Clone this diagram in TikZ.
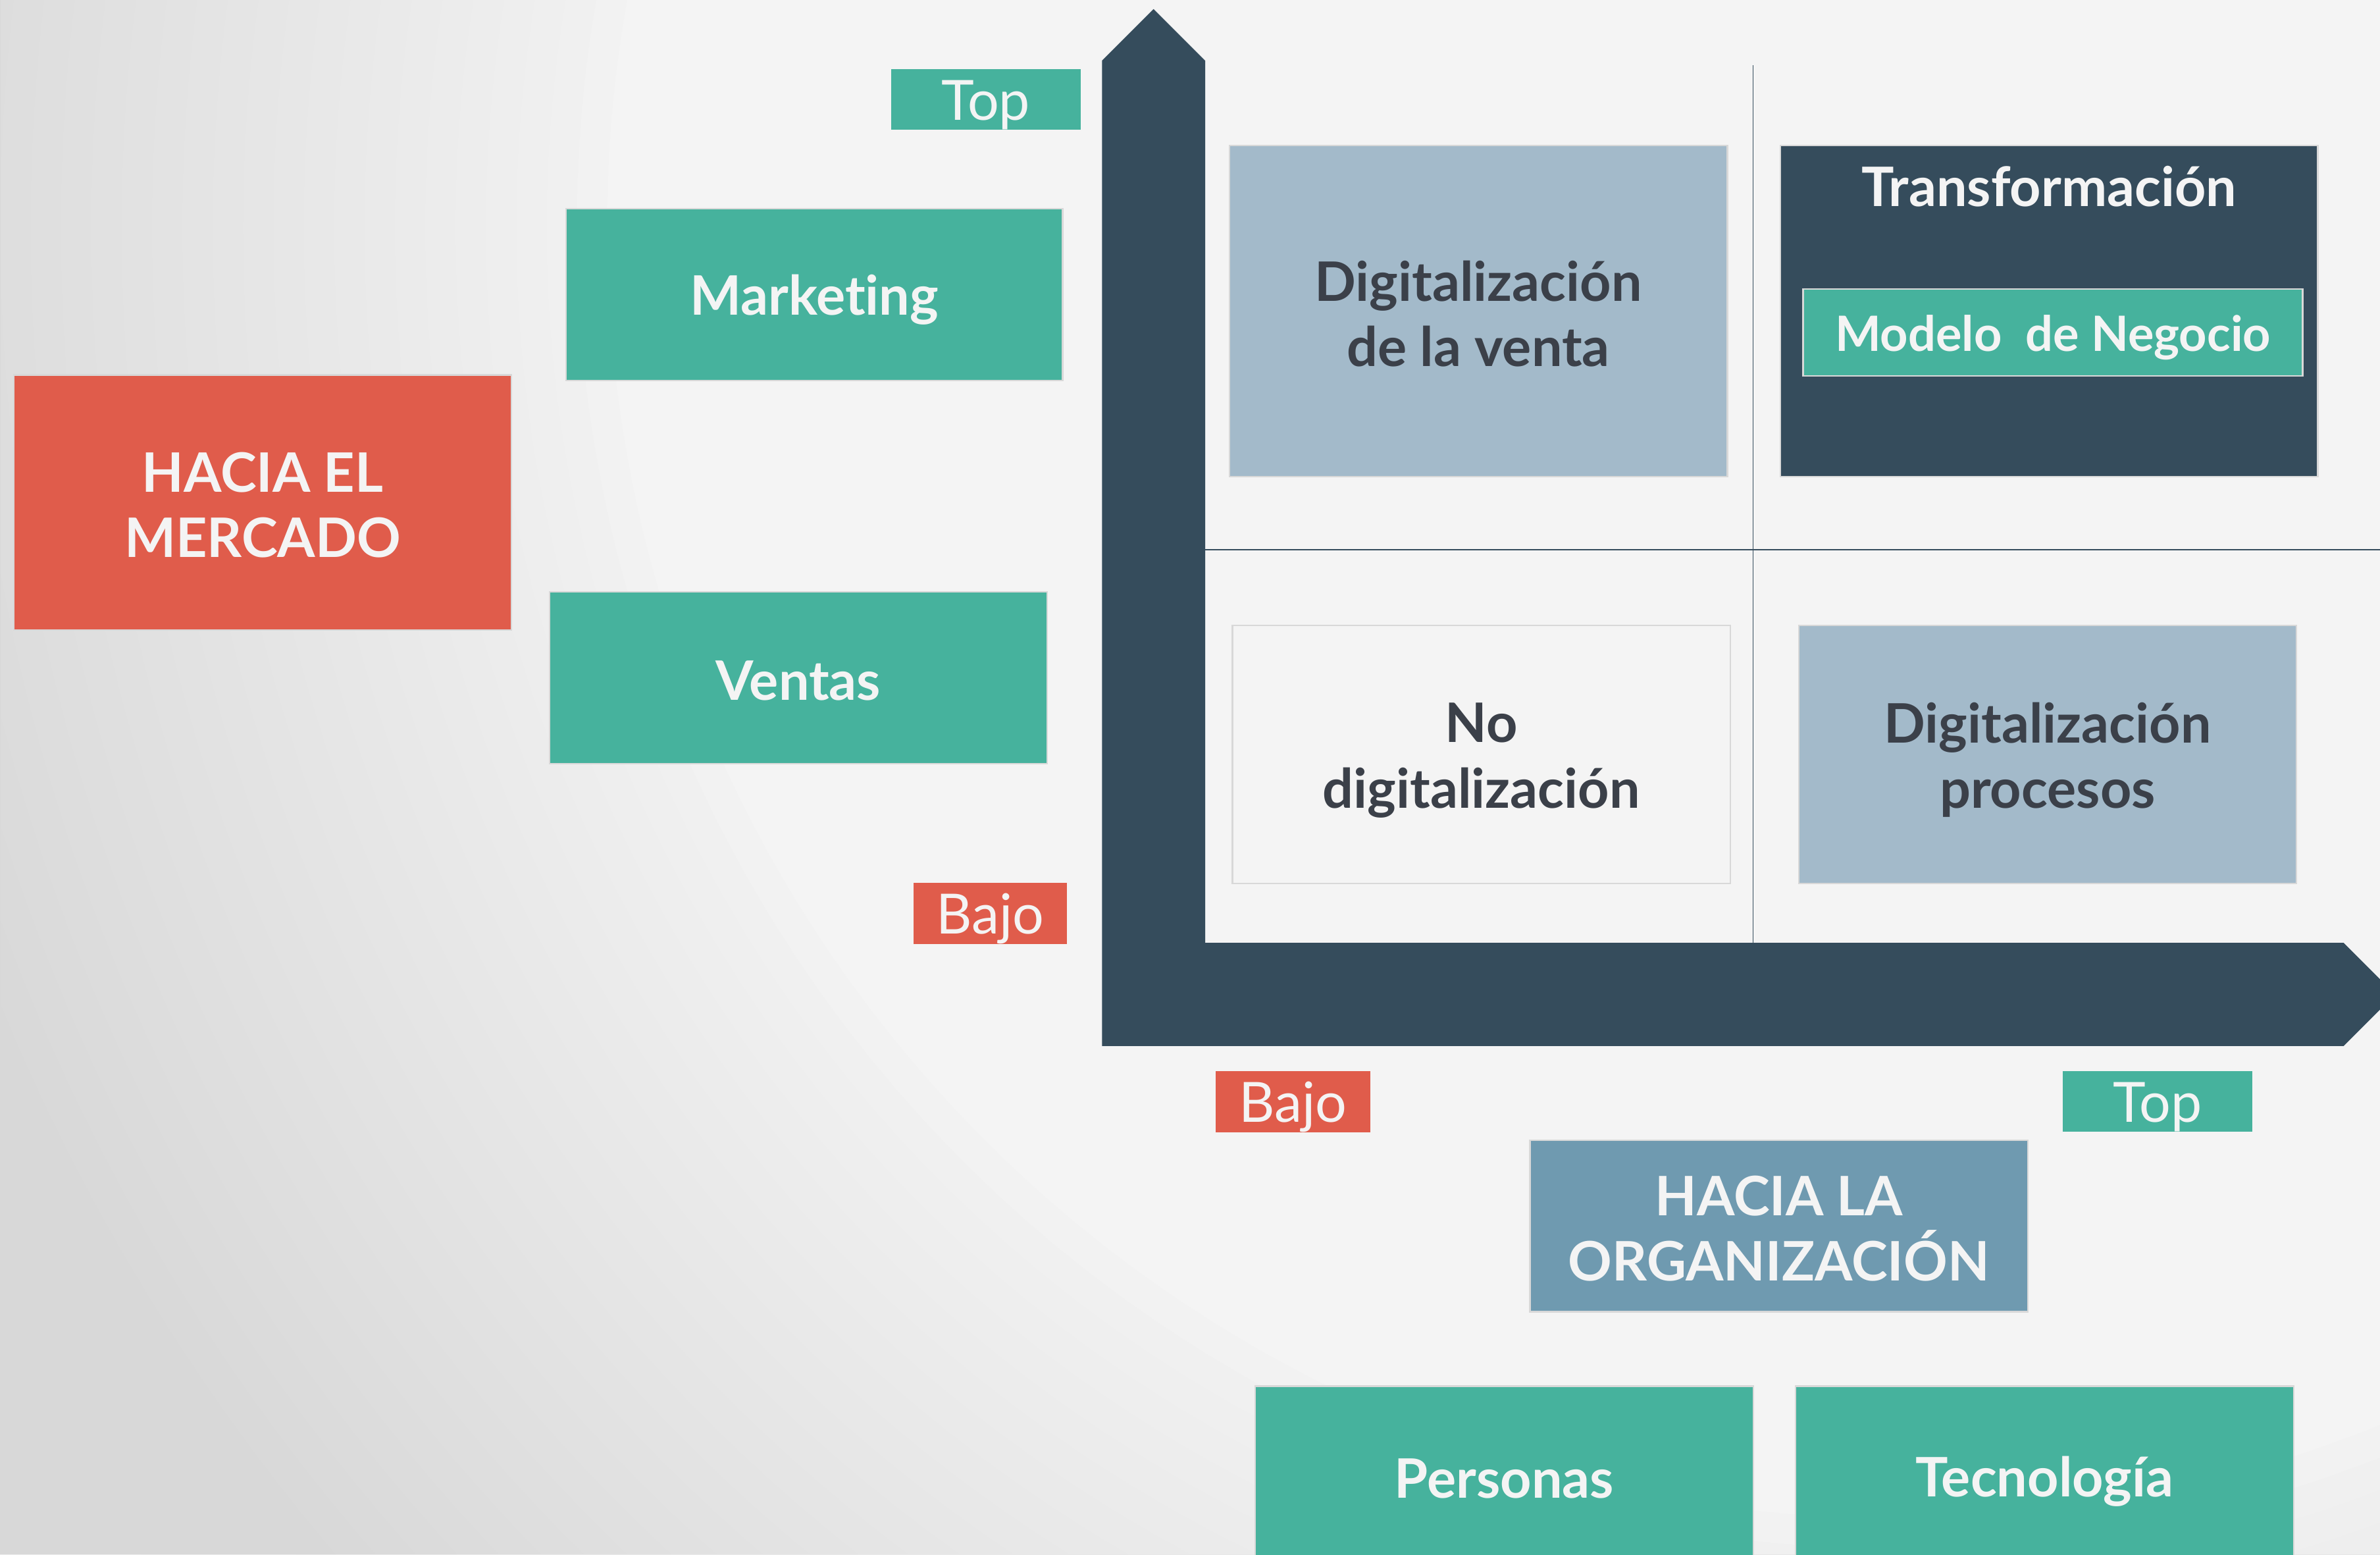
\documentclass[tikz,border=0pt]{standalone}
\usepackage{fontspec}
\setmainfont{Lato}[Ligatures=NoCommon]
\definecolor{axisc}{HTML}{354C5C}
\definecolor{teal}{HTML}{46B29D}
\definecolor{redc}{HTML}{E05C4B}
\definecolor{lblue}{HTML}{A3BACA}
\definecolor{steel}{HTML}{6F9AB0}
\definecolor{bgc}{HTML}{F4F4F4}
\definecolor{bgl}{HTML}{D8D8D8}
\definecolor{boxline}{HTML}{D8D8D8}
\definecolor{darktext}{HTML}{3B4049}
\definecolor{whitetext}{HTML}{F4F4F4}
\newcommand{\lnstrut}{\rule[-3pt]{0pt}{27pt}}
\newcommand{\smstrut}{\rule[-3pt]{0pt}{24.5pt}}
\tikzset{
  box/.style={rectangle, draw=boxline, line width=0.7pt, inner sep=0pt, align=center,
    font=\bfseries\fontsize{25.5}{30.6}\selectfont},
  tealbox/.style={box, fill=teal, text=whitetext},
  bluebox/.style={box, fill=lblue, text=darktext},
  tag/.style={rectangle, inner sep=0pt, text=whitetext, font=\fontsize{26}{30}\selectfont,
    minimum height=0.975cm},
  guide/.style={draw=axisc, line width=0.5pt}
}
\begin{document}
\begin{tikzpicture}[x=0.025cm,y=-0.025cm]
\useasboundingbox (0,0) rectangle (1568,1024);
\clip (0,0) rectangle (1568,1024);
\fill[bgc] (0,0) rectangle (1568,1024);
\coordinate (bgcenter) at (1250,150);
\foreach \r in {850,870,...,1550}{
  \fill[bgl, opacity=0.04, even odd rule] (0,0) rectangle (1568,1024) (bgcenter) circle (\r);
}
% guide lines
\coordinate (vtop) at (1155,43);
\coordinate (vbot) at (1155,621);
\coordinate (hleft) at (794,362);
\coordinate (hright) at (1568,362);
\draw[guide] (vtop) -- (vbot);
\draw[guide] (hleft) -- (hright);
% axes
\fill[axisc] (726,689) -- (726,40) -- (760,6) -- (794,40) -- (794,621) -- (1544,621)
  -- (1578,655) -- (1544,689) -- cycle;
% left side
\node[tag, fill=teal, minimum width=3.125cm] (topl) at (649.5,65.5) {Top\lnstrut};
\node[tealbox, minimum width=8.175cm, minimum height=2.825cm] (mkt) at (536.5,194) {Marketing\lnstrut};
\node[box, fill=redc, text=whitetext, minimum width=8.2cm, minimum height=4.2cm] (merc) at (173,331) {HACIA EL\lnstrut\\MERCADO\lnstrut};
\node[tealbox, minimum width=8.2cm, minimum height=2.825cm] (ventas) at (526,446.5) {Ventas\lnstrut};
\node[tag, fill=redc, minimum width=2.525cm] (bajol) at (652.5,601.5) {Bajo\lnstrut};
% quadrants
\node[bluebox, minimum width=8.2cm, minimum height=5.45cm] (dventa) at (974,205) {Digitalización\lnstrut\\de la venta\lnstrut};
\node[box, fill=axisc, minimum width=8.85cm, minimum height=5.45cm] (transf) at (1350,205) {};
\node[font=\bfseries\fontsize{25.5}{30.6}\selectfont, text=whitetext, inner sep=0pt, anchor=base] (transft) at (1350,135.8) {Transformación};
\node[box, fill=teal, text=whitetext, minimum width=8.225cm, minimum height=1.425cm,
  font=\bfseries\fontsize{22.8}{27}\selectfont] (modelo) at (1352.5,219) {Modelo\ \ de Negocio\smstrut};
\node[box, fill=bgc, text=darktext, minimum width=8.2cm, minimum height=4.25cm] (nodig) at (976,497) {No\lnstrut\\digitalización\lnstrut};
\node[bluebox, minimum width=8.2cm, minimum height=4.25cm] (dproc) at (1349,497) {Digitalización\lnstrut\\procesos\lnstrut};
% bottom
\node[tag, fill=redc, minimum width=2.55cm] (bajob) at (852,725.5) {Bajo\lnstrut};
\node[tag, fill=teal, minimum width=3.125cm] (topb) at (1421.5,725.5) {Top\lnstrut};
\node[box, fill=steel, text=whitetext, minimum width=8.2cm, minimum height=2.825cm] (org) at (1172,807.5) {HACIA LA\lnstrut\\ORGANIZACIÓN\lnstrut};
\node[tealbox, minimum width=8.2cm, minimum height=2.95cm] (pers) at (991,972) {Personas\lnstrut};
\node[tealbox, minimum width=8.2cm, minimum height=2.95cm] (tec) at (1347,972) {Tecnología\lnstrut};
\end{tikzpicture}
\end{document}
